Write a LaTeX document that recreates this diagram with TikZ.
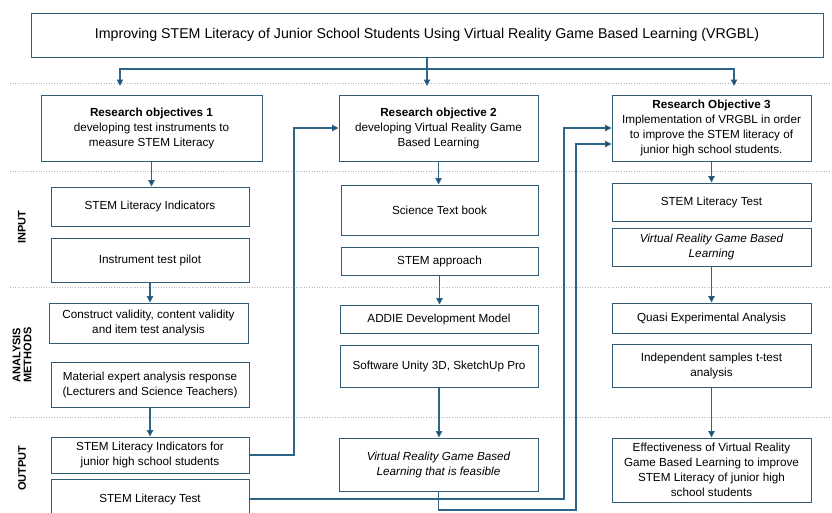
\documentclass[tikz,border=0pt]{standalone}
\usepackage{fontspec}
\setmainfont{Liberation Sans}
\usetikzlibrary{arrows.meta}

\definecolor{boxline}{RGB}{50,92,118}
\definecolor{connc}{RGB}{45,100,135}
\definecolor{tipc}{RGB}{25,70,110}
\definecolor{sepc}{RGB}{185,185,185}

% box given by its corners: name, x1, x2, y1, y2, text
\newcommand{\pbox}[6]{%
  \node[box, minimum width={#3-#2}, minimum height={#5-#4}] (#1)
    at ({(#2+#3)/2},{(#4+#5)/2}) {#6};}

\begin{document}
\begin{tikzpicture}[x=1pt,y=-1pt,
  box/.style={draw=boxline, line width=1pt, inner sep=0pt, align=center,
    font=\fontsize{11.7}{15}\selectfont},
  titlebox/.style={box, font=\fontsize{14.2}{17}\selectfont},
  conn/.style={draw=connc, line width=1.1pt},
  arr/.style={conn, -{Triangle[length=6.5pt,width=6.5pt,fill=tipc]}},
  sep/.style={draw=sepc, line width=0.6pt, dotted},
  side/.style={rotate=90, align=center, inner sep=0pt,
    font=\fontsize{11}{11}\selectfont\bfseries}]

\path[use as bounding box, fill=white] (0,0) rectangle (832,512);
\clip (0,0) rectangle (832,512);

% row separators
\draw[sep] (10,83) -- (832,83);
\draw[sep] (10,171) -- (832,171);
\draw[sep] (10,287) -- (832,287);
\draw[sep] (10,417) -- (832,417);

% row labels
\node[side] (lin)  at (22,227) {INPUT};
\node[side] (lan)  at (22,355) {ANALYSIS\\METHODS};
\node[side] (lout) at (22,468) {OUTPUT};

% title
\node[titlebox, minimum width=792, minimum height=44] (title) at (427,35)
  {Improving STEM Literacy of Junior School Students Using Virtual Reality Game Based Learning (VRGBL)};

% column 1
\pbox{obj1}{41}{262}{95}{161}{\textbf{Research objectives 1}\\developing test instruments to\\measure STEM Literacy}
\pbox{ind}{51}{249}{187}{226}{STEM Literacy Indicators}
\pbox{pilot}{51}{249}{238}{282}{Instrument test pilot}
\pbox{constr}{49}{248}{303}{343}{Construct validity, content validity\\and item test analysis}
\pbox{mater}{51}{249}{362}{407}{Material expert analysis response\\(Lecturers and Science Teachers)}
\pbox{indj}{51}{249}{437}{473}{STEM Literacy Indicators for\\junior high school students}
\pbox{test1}{51}{249}{479}{519}{STEM Literacy Test}

% column 2
\pbox{obj2}{339}{538}{95}{161}{\textbf{Research objective 2}\\developing Virtual Reality Game\\Based Learning}
\pbox{sci}{341}{538}{185}{235}{Science Text book}
\pbox{stapp}{341}{538}{247}{275}{STEM approach}
\pbox{addie}{340}{538}{305}{333}{ADDIE Development Model}
\pbox{soft}{340}{538}{345}{387}{Software Unity 3D, SketchUp Pro}
\pbox{vrfeas}{339}{538}{438}{491}{\itshape Virtual Reality Game Based\\\itshape Learning that is feasible}

% column 3
\pbox{obj3}{612}{811}{95}{161}{\textbf{Research Objective 3}\\Implementation of VRGBL in order\\to improve the STEM literacy of\\junior high school students.}
\pbox{test3}{612}{811}{183}{221}{STEM Literacy Test}
\pbox{vr3}{612}{811}{228}{266}{\itshape Virtual Reality Game Based\\\itshape Learning}
\pbox{quasi}{612}{811}{303}{333}{Quasi Experimental Analysis}
\pbox{indep}{612}{811}{344}{387}{Independent samples t-test\\analysis}
\pbox{eff}{612}{811}{438}{502}{Effectiveness of Virtual Reality\\Game Based Learning to improve\\STEM Literacy of junior high\\school students}

% title branches
\coordinate (hub) at (427,69);
\coordinate (b1) at (120,86);
\coordinate (b2) at (427,86);
\coordinate (b3) at (734,86);
\draw[arr] (title.south) -- (b2);
\draw[arr] (hub) -| (b1);
\draw[arr] (hub) -| (b3);

% flow inside the columns
\draw[arr] (obj1.south) -- (obj1.south |- ind.north);
\draw[arr] (pilot.south) -- (pilot.south |- constr.north);
\draw[arr] (mater.south) -- (mater.south |- indj.north);
\draw[arr] (obj2.south) -- (obj2.south |- sci.north);
\draw[arr] (stapp.south) -- (stapp.south |- addie.north);
\draw[arr] (soft.south) -- (soft.south |- vrfeas.north);
\draw[arr] (obj3.south) -- (obj3.south |- test3.north);
\draw[arr] (vr3.south) -- (vr3.south |- quasi.north);
\draw[arr] (indep.south) -- (indep.south |- eff.north);

% outputs feeding later objectives
\coordinate (r2) at (294,128);
\coordinate (r3a) at (564,128);
\coordinate (r3b) at (576,144);
\coordinate (low) at (576,510);
\draw[arr] (indj.east) -| (r2) -- (r2 -| obj2.west);
\draw[arr] (test1.east) -| (r3a) -- (r3a -| obj3.west);
\draw[arr] (vrfeas.south) |- (low) -- (r3b) -- (r3b -| obj3.west);

\end{tikzpicture}
\end{document}
